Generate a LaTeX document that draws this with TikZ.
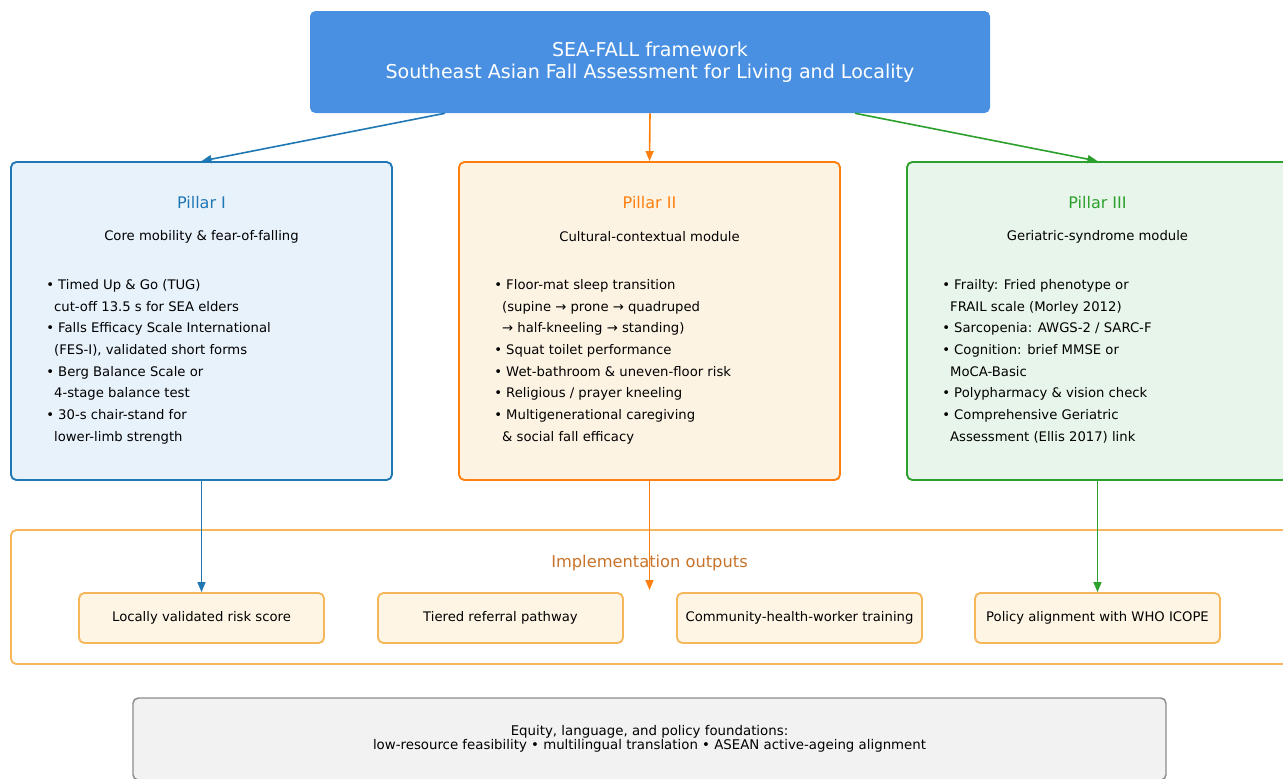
\documentclass[tikz,border=0pt]{standalone}
\usepackage{fontspec}
\setmainfont{DejaVu Sans}
\usetikzlibrary{arrows.meta,calc}

\definecolor{topblue}{HTML}{4A90E2}
\definecolor{tabblue}{HTML}{1F77B4}
\definecolor{taborange}{HTML}{FF7F0E}
\definecolor{tabgreen}{HTML}{2CA02C}
\definecolor{bluefill}{HTML}{E8F2FB}
\definecolor{orangefill}{HTML}{FDF3E3}
\definecolor{greenfill}{HTML}{E8F5EA}
\definecolor{amber}{HTML}{F6B75A}
\definecolor{amberfill}{HTML}{FEF5E4}
\definecolor{impltext}{HTML}{C8732A}
\definecolor{footfill}{HTML}{F2F2F2}
\definecolor{footline}{HTML}{8C8C8C}

\tikzset{
  pillarbox/.style={draw=#1, line width=1.4pt, rounded corners=4pt,
    minimum width=285.75pt, minimum height=238.5pt},
  pillartitle/.style={text=#1, font=\fontsize{12}{14}\selectfont},
  subtitle/.style={font=\fontsize{9.9}{12}\selectfont},
  bullets/.style={anchor=north west, inner sep=0pt, align=left,
    font=\fontsize{9.9}{16.3}\selectfont},
  outbox/.style={draw=amber, fill=amberfill, line width=1.4pt, rounded corners=4pt,
    minimum width=183.75pt, minimum height=37.5pt, font=\fontsize{9.9}{12}\selectfont},
  link/.style={draw=#1, line width=1.2pt, -{Triangle[length=7.5pt,width=6pt]}}
}

\begin{document}
\begin{tikzpicture}[x=0.75pt, y=-0.75pt]
    \useasboundingbox (0,0) rectangle (1283,779);
    % Framework header
    \node[fill=topblue, rounded corners=4pt, minimum width=510pt, minimum height=76.5pt,
          text=white, align=center, font=\fontsize{14.3}{16.5}\selectfont]
        (top) at (650,62) {SEA-FALL framework\\Southeast Asian Fall Assessment for Living and Locality};
    % Pillar I
    \node[pillarbox=tabblue, fill=bluefill] (p1) at (201.5,321) {};
    \node[pillartitle=tabblue] (t1) at (201.5,203) {Pillar I};
    \node[subtitle] (s1) at (201.5,237) {Core mobility \& fear-of-falling};
    \node[bullets] (b1) at (46,279) {%
        • Timed Up \& Go (TUG)\\
        \hspace*{0.6em}cut-off 13.5 s for SEA elders\\
        • Falls Efficacy Scale International\\
        \hspace*{0.6em}(FES-I), validated short forms\\
        • Berg Balance Scale or\\
        \hspace*{0.6em}4-stage balance test\\
        • 30-s chair-stand for\\
        \hspace*{0.6em}lower-limb strength};
    % Pillar II
    \node[pillarbox=taborange, fill=orangefill] (p2) at (649.5,321) {};
    \node[pillartitle=taborange] (t2) at (649.5,203) {Pillar II};
    \node[subtitle] (s2) at (649.5,237) {Cultural-contextual module};
    \node[bullets] (b2) at (494,279) {%
        • Floor-mat sleep transition\\
        \hspace*{0.6em}(supine → prone → quadruped\\
        \hspace*{0.6em}→ half-kneeling → standing)\\
        • Squat toilet performance\\
        • Wet-bathroom \& uneven-floor risk\\
        • Religious / prayer kneeling\\
        • Multigenerational caregiving\\
        \hspace*{0.6em}\& social fall efficacy};
    % Pillar III
    \node[pillarbox=tabgreen, fill=greenfill] (p3) at (1097.5,321) {};
    \node[pillartitle=tabgreen] (t3) at (1097.5,203) {Pillar III};
    \node[subtitle] (s3) at (1097.5,237) {Geriatric-syndrome module};
    \node[bullets] (b3) at (942,279) {%
        • Frailty: Fried phenotype or\\
        \hspace*{0.6em}FRAIL scale (Morley 2012)\\
        • Sarcopenia: AWGS-2 / SARC-F\\
        • Cognition: brief MMSE or\\
        \hspace*{0.6em}MoCA-Basic\\
        • Polypharmacy \& vision check\\
        • Comprehensive Geriatric\\
        \hspace*{0.6em}Assessment (Ellis 2017) link};
    % Implementation outputs
    \node[draw=amber, line width=1.4pt, rounded corners=4pt, minimum width=957.75pt,
          minimum height=100.5pt] (impl) at (649.5,597) {};
    \node[text=impltext, font=\fontsize{12.2}{14}\selectfont] (implt) at (649.5,563) {Implementation outputs};
    \foreach \n/\x/\txt in {1/201.5/Locally validated risk score,
                            2/500.5/Tiered referral pathway,
                            3/799.5/Community-health-worker training,
                            4/1097.5/Policy alignment with WHO ICOPE} {
        \node[outbox] (o\n) at (\x,618) {\txt};
    }
    \coordinate (mid) at (649.5,590);
    % Foundations
    \node[draw=footline, fill=footfill, line width=1.1pt, rounded corners=4pt,
          minimum width=774.75pt, minimum height=61.5pt, align=center,
          font=\fontsize{10}{10.5}\selectfont] (foot) at (649.5,739)
        {Equity, language, and policy foundations:\\low-resource feasibility • multilingual translation • ASEAN active-ageing alignment};
    % Connectors
    \draw[link=tabblue] ($(top.south)+(-205,0)$) -- (p1.north);
    \draw[link=taborange] (top.south) -- (p2.north);
    \draw[link=tabgreen] ($(top.south)+(205,0)$) -- (p3.north);
    \draw[link=tabblue] (p1.south) -- (o1.north);
    \draw[link=taborange] (p2.south) -- (mid);
    \draw[link=tabgreen] (p3.south) -- (o4.north);
\end{tikzpicture}
\end{document}
